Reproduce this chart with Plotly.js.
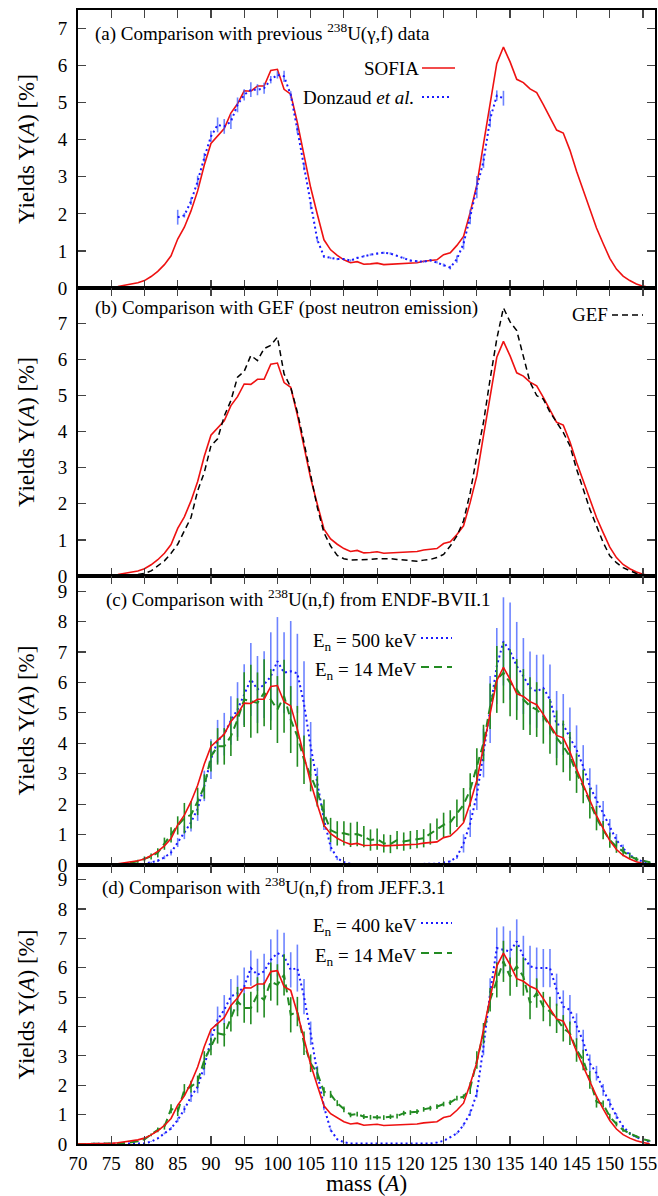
<!DOCTYPE html>
<html><head><meta charset="utf-8">
<script src="https://cdn.plot.ly/plotly-3.0.1.min.js"></script>
<style>body{margin:0;background:#fff}#chart{width:658px;height:1196px}</style>
</head><body><div id="chart"></div>
<script>
// ---------- data ----------
const massAll = [70,71,72,73,74,75,76,77,78,79,80,81,82,83,84,85,86,87,88,89,90,91,92,93,94,95,96,97,98,99,100,101,102,103,104,105,106,107,108,109,110,111,112,113,114,115,116,117,118,119,120,121,122,123,124,125,126,127,128,129,130,131,132,133,134,135,136,137,138,139,140,141,142,143,144,145,146,147,148,149,150,151,152,153,154,155,156];

const sofia = [0.00,0.00,0.01,0.01,0.02,0.02,0.04,0.07,0.10,0.14,0.20,0.31,0.45,0.63,0.87,1.32,1.64,2.08,2.62,3.32,3.90,4.10,4.30,4.72,4.97,5.32,5.31,5.45,5.45,5.87,5.90,5.36,5.23,4.46,3.62,2.71,1.99,1.30,1.03,0.88,0.76,0.68,0.71,0.64,0.65,0.67,0.63,0.64,0.63,0.65,0.67,0.68,0.72,0.75,0.76,0.90,0.95,1.15,1.39,2.04,2.78,3.89,5.00,6.06,6.50,6.10,5.63,5.54,5.37,5.27,4.95,4.62,4.26,4.18,3.72,3.15,2.64,2.13,1.62,1.20,0.80,0.51,0.32,0.20,0.11,0.05,0.01];

const gef = [0.00,0.00,0.00,0.00,0.00,0.00,0.01,0.01,0.02,0.04,0.07,0.14,0.28,0.42,0.63,0.88,1.25,1.62,2.36,2.87,3.61,3.80,4.43,4.86,5.51,5.67,6.11,5.97,6.30,6.39,6.62,5.60,5.23,4.54,3.70,2.78,1.90,1.20,0.83,0.57,0.48,0.44,0.44,0.44,0.46,0.48,0.49,0.48,0.46,0.44,0.42,0.41,0.44,0.46,0.51,0.60,0.83,1.11,1.53,2.31,3.33,4.26,5.46,6.57,7.43,7.04,6.80,6.11,5.37,5.00,4.90,4.54,4.26,3.98,3.61,2.96,2.41,1.85,1.39,0.93,0.56,0.37,0.23,0.14,0.07,0.04,0.01];

const massDonzaud = [85,86,87,88,89,90,91,92,93,94,95,96,97,98,99,100,101,102,103,104,105,106,107,108,109,110,111,112,113,114,115,116,117,118,119,120,121,122,123,124,125,126,127,128,129,130,131,132,133,134];
const donzaud = [1.91,1.96,2.34,2.88,3.52,4.09,4.40,4.36,4.49,4.94,5.21,5.35,5.35,5.39,5.62,5.75,5.71,5.21,4.27,3.28,2.20,1.30,0.85,0.81,0.78,0.78,0.74,0.81,0.86,0.90,0.93,0.95,0.93,0.87,0.81,0.74,0.72,0.71,0.75,0.69,0.62,0.55,0.78,1.20,1.92,2.72,3.42,4.56,5.19,5.12];
const donzaudErr = [0.20,0.06,0.10,0.15,0.12,0.15,0.20,0.20,0.20,0.20,0.15,0.20,0.15,0.15,0.10,0.10,0.15,0.10,0.10,0.10,0.08,0.05,0.04,0.03,0.03,0.03,0.03,0.03,0.03,0.03,0.03,0.03,0.03,0.03,0.03,0.03,0.03,0.03,0.03,0.03,0.04,0.05,0.10,0.16,0.20,0.30,0.18,0.22,0.14,0.20];

const endf500 = [0.00,0.00,0.00,0.00,0.00,0.00,0.00,0.01,0.01,0.02,0.04,0.08,0.14,0.25,0.41,0.74,1.07,1.40,1.85,2.60,3.48,4.07,4.30,4.75,5.11,5.60,6.10,5.77,5.93,6.20,6.70,6.32,6.37,6.30,5.30,3.90,2.65,1.50,0.60,0.22,0.09,0.04,0.02,0.02,0.02,0.02,0.02,0.02,0.02,0.02,0.02,0.02,0.02,0.02,0.04,0.08,0.12,0.27,0.71,1.37,2.31,3.68,5.11,6.54,7.35,7.03,6.54,6.21,5.82,5.71,5.82,5.44,4.62,4.62,4.18,3.79,3.24,2.58,2.14,1.70,1.21,0.82,0.55,0.33,0.19,0.11,0.07];
const endf500Err = [0,0,0,0,0,0,0,0,0,0.01,0.02,0.03,0.04,0.06,0.10,0.15,0.22,0.30,0.40,0.50,0.65,0.70,0.70,0.80,0.90,1.00,1.20,1.10,1.10,1.45,1.45,1.33,1.65,1.30,1.40,0.80,0.55,0.35,0.15,0.06,0.03,0.01,0,0,0,0,0,0,0,0,0,0,0,0,0.01,0.02,0.03,0.07,0.30,0.45,0.50,0.80,1.10,1.25,1.45,1.60,1.45,1.25,1.20,1.20,1.10,1.15,1.10,1.00,1.00,0.80,0.70,0.60,0.50,0.40,0.30,0.20,0.12,0.08,0.05,0.03,0.02];

const endf14 = [0.00,0.00,0.00,0.00,0.01,0.01,0.02,0.04,0.07,0.12,0.20,0.28,0.40,0.70,0.99,1.30,1.54,1.65,2.09,2.58,3.57,3.90,3.90,4.23,4.78,5.44,5.38,5.33,5.66,5.44,5.11,5.55,4.78,4.23,3.46,2.97,2.42,1.70,1.15,1.04,1.04,0.99,1.02,0.93,0.82,0.85,0.71,0.69,0.82,0.77,0.82,0.85,0.88,1.02,1.18,1.32,1.40,1.70,1.98,2.47,3.24,4.01,5.22,6.10,6.32,5.99,5.77,5.44,5.22,5.11,4.89,4.56,4.18,3.90,3.57,3.02,2.58,2.03,1.54,1.15,0.82,0.60,0.44,0.30,0.19,0.13,0.09];
const endf14Err = [0,0,0,0,0,0,0.01,0.02,0.03,0.05,0.08,0.10,0.15,0.20,0.25,0.30,0.50,0.45,0.45,0.40,0.50,0.60,0.60,0.65,0.70,0.90,1.20,1.00,1.10,1.00,1.10,1.20,1.10,1.00,0.80,0.55,0.50,0.45,0.40,0.40,0.40,0.40,0.40,0.35,0.35,0.35,0.30,0.30,0.30,0.30,0.30,0.30,0.30,0.35,0.35,0.40,0.40,0.45,0.55,0.55,0.60,0.60,0.75,1.10,1.00,1.10,1.00,1.00,0.95,0.90,0.90,0.90,0.90,0.85,0.80,0.65,0.55,0.50,0.40,0.30,0.25,0.20,0.15,0.10,0.07,0.05,0.03];

const jeff400 = [0.00,0.00,0.00,0.00,0.00,0.00,0.00,0.00,0.01,0.01,0.02,0.08,0.19,0.36,0.53,0.82,1.18,1.61,1.95,2.64,3.55,4.23,4.57,5.02,5.14,5.36,5.99,5.76,5.88,6.27,6.50,6.39,5.93,5.99,5.02,3.77,2.41,1.27,0.48,0.16,0.06,0.02,0.02,0.02,0.02,0.02,0.02,0.02,0.02,0.02,0.02,0.02,0.02,0.02,0.05,0.11,0.23,0.36,0.65,1.05,1.73,3.32,5.14,6.67,6.61,6.56,6.90,6.39,6.05,5.99,5.99,5.99,5.25,4.68,4.57,4.00,3.49,2.75,2.41,1.84,1.39,0.95,0.59,0.36,0.23,0.14,0.08];
const jeff400Err = [0,0,0,0,0,0,0,0,0,0,0.01,0.01,0.02,0.03,0.05,0.08,0.12,0.18,0.22,0.30,0.35,0.45,0.50,0.60,0.60,0.65,0.60,0.55,0.60,0.70,0.80,0.80,0.60,0.80,0.60,0.40,0.25,0.12,0.05,0.02,0.01,0,0,0,0,0,0,0,0,0,0,0,0,0,0.01,0.01,0.02,0.03,0.05,0.10,0.15,0.30,0.50,0.70,0.80,0.70,0.75,0.70,0.70,0.70,0.65,0.65,0.55,0.55,0.50,0.45,0.40,0.30,0.25,0.20,0.15,0.10,0.06,0.04,0.03,0.02,0.01];

const jeff14 = [0.00,0.00,0.00,0.00,0.01,0.01,0.02,0.03,0.05,0.09,0.16,0.31,0.48,0.59,1.20,1.10,1.84,1.95,2.13,2.86,3.32,3.77,3.72,4.28,4.85,4.63,4.63,5.08,4.91,5.53,5.42,5.76,4.40,4.51,3.43,2.75,2.41,1.78,1.69,1.39,1.18,0.99,1.02,0.93,0.91,0.91,0.90,0.93,0.95,1.05,1.07,1.10,1.18,1.22,1.27,1.36,1.41,1.56,1.61,1.90,2.86,3.77,4.91,5.59,6.22,5.70,6.05,5.70,4.80,5.14,4.68,4.51,4.28,3.94,3.77,3.20,2.86,2.18,1.44,1.36,0.93,0.68,0.48,0.36,0.25,0.16,0.11];
const jeff14Err = [0,0,0,0,0,0,0,0,0.01,0.02,0.03,0.05,0.08,0.10,0.15,0.15,0.20,0.20,0.20,0.30,0.30,0.35,0.40,0.45,0.50,0.50,0.55,0.60,0.60,0.65,0.70,0.70,0.60,0.50,0.40,0.30,0.20,0.15,0.12,0.10,0.10,0.08,0.08,0.08,0.08,0.08,0.08,0.08,0.08,0.08,0.08,0.08,0.08,0.08,0.08,0.08,0.08,0.08,0.08,0.20,0.30,0.35,0.40,0.60,0.70,0.65,0.70,0.65,0.55,0.50,0.50,0.50,0.50,0.45,0.40,0.40,0.35,0.30,0.20,0.12,0.10,0.08,0.06,0.05,0.04,0.03,0.02];

const panelTitles = [
  '(a) Comparison with previous <sup>238</sup>U(γ,f) data',
  '(b) Comparison with GEF (post neutron emission)',
  '(c) Comparison with <sup>238</sup>U(n,f) from ENDF-BVII.1',
  '(d) Comparison with <sup>238</sup>U(n,f) from JEFF.3.1'
];
const legendLabels = ['SOFIA', 'Donzaud <i>et al.</i>', 'GEF', 'E<sub>n</sub> = 500 keV', 'E<sub>n</sub> = 14 MeV', 'E<sub>n</sub> = 400 keV', 'E<sub>n</sub> = 14 MeV'];
const xTitle = 'mass (<i>A</i>)';
const yTitle = 'Yields Y(<i>A</i>) [%]';

// ---------- style ----------
const RED = '#ee1111', BLUE = '#1a1aff', BLUEBAR = 'rgba(60,90,255,0.75)', GREEN = '#228b22', BLACK = '#000';
const FONT = 'Liberation Serif, Times New Roman, serif';

function line(x, y, xa, ya, color, width, dash, err, errColor) {
  const t = {x: x, y: y, xaxis: xa, yaxis: ya, type: 'scatter', mode: 'lines',
    line: {color: color, width: width, dash: dash}, showlegend: false, hoverinfo: 'skip'};
  if (err) t.error_y = {type: 'data', array: err, visible: true, color: errColor, thickness: 1.6, width: 0};
  return t;
}
const DOT = '2px,3px', DASHG = '8px,5px', DASHK = '6px,4px';

const traces = [
  line(massAll, sofia, 'x', 'y', RED, 1.6, 'solid'),
  line(massDonzaud, donzaud, 'x', 'y', BLUE, 2, DOT, donzaudErr, BLUEBAR),
  line(massAll, sofia, 'x2', 'y2', RED, 1.6, 'solid'),
  line(massAll, gef, 'x2', 'y2', BLACK, 1.5, DASHK),
  line(massAll, endf500, 'x3', 'y3', BLUE, 2, DOT, endf500Err, BLUEBAR),
  line(massAll, endf14, 'x3', 'y3', GREEN, 2, DASHG, endf14Err, GREEN),
  line(massAll, sofia, 'x3', 'y3', RED, 1.6, 'solid'),
  line(massAll, jeff400, 'x4', 'y4', BLUE, 2, DOT, jeff400Err, BLUEBAR),
  line(massAll, jeff14, 'x4', 'y4', GREEN, 2, DASHG, jeff14Err, GREEN),
  line(massAll, sofia, 'x4', 'y4', RED, 1.6, 'solid')
];

// ---------- layout ----------
const T = 10, B = 52, L = 78, R = 3, H = 1196, W = 658;
const ph = H - T - B, pw = W - L - R;
const py = v => (H - B - v) / ph;   // page y -> paper
const px = v => (v - L) / pw;       // page x -> paper
const doms = [[py(288), 1], [py(576), py(288)], [py(865), py(576)], [0, py(865)]];
const yr = [[0, 7.5], [0, 7.98], [0, 9.5], [0, 9.5]];

function xaxis(i) {
  return {range: [70, 156.8], dtick: 5, tick0: 70, ticks: 'inside', ticklen: 8, tickwidth: 1.2,
    mirror: 'ticks', showline: true, linewidth: 2, linecolor: '#000', showgrid: false, zeroline: false,
    anchor: 'y' + (i ? i + 1 : ''), showticklabels: i === 3, ticklabelstandoff: 1,
    tickfont: {family: FONT, size: 19, color: '#000'},
    title: i === 3 ? {text: xTitle, font: {family: FONT, size: 23, color: '#000'}, standoff: 3} : undefined};
}
function yaxis(i) {
  return {domain: doms[i], range: yr[i], dtick: 1, tick0: 0, ticks: 'inside', ticklen: 8, tickwidth: 1.2,
    mirror: 'ticks', showline: true, linewidth: 2, linecolor: '#000', showgrid: false, zeroline: false,
    anchor: 'x' + (i ? i + 1 : ''), ticklabelstandoff: 5,
    tickfont: {family: FONT, size: 19, color: '#000'},
    title: {text: yTitle, font: {family: FONT, size: 23, color: '#000'}, standoff: 17}};
}

const ann = [];
const titlePos = [[93, 32], [93, 308], [104, 598], [100, 886]];
panelTitles.forEach((t, i) => ann.push({text: t, xref: 'paper', yref: 'paper', x: px(titlePos[i][0]), y: py(titlePos[i][1]),
  xanchor: 'left', yanchor: 'middle', showarrow: false, font: {family: FONT, size: 19, color: '#000'}}));

const legPos = [[421, 68], [416, 97], [610, 315], [419, 638], [419, 667], [419, 923], [419, 953]];
const legLine = [[422, 455, RED, 'solid', 1.6], [422, 452, BLUE, DOT, 2], [612, 643, BLACK, DASHK, 1.5],
  [421, 452, BLUE, DOT, 2], [421, 452, GREEN, DASHG, 2], [421, 452, BLUE, DOT, 2], [421, 452, GREEN, DASHG, 2]];
const shapes = [];
legendLabels.forEach((t, i) => {
  const sub = t.indexOf('<sub>') >= 0;
  ann.push({text: t, xref: 'paper', yref: 'paper', x: px(legPos[i][0]), y: py(legPos[i][1] + (sub ? 4 : 0)),
    xanchor: 'right', yanchor: 'middle', showarrow: false, font: {family: FONT, size: 19, color: '#000'}});
  const l = legLine[i];
  shapes.push({type: 'line', xref: 'paper', yref: 'paper', x0: px(l[0]), x1: px(l[1]), y0: py(legPos[i][1]), y1: py(legPos[i][1]),
    line: {color: l[2], dash: l[3], width: l[4]}});
});

const layout = {width: W, height: H, margin: {l: L, r: R, t: T, b: B}, paper_bgcolor: '#fff', plot_bgcolor: '#fff',
  showlegend: false, annotations: ann, shapes: shapes, font: {family: FONT, color: '#000'}};
for (let i = 0; i < 4; i++) {
  layout['xaxis' + (i ? i + 1 : '')] = xaxis(i);
  layout['yaxis' + (i ? i + 1 : '')] = yaxis(i);
}
Plotly.newPlot('chart', traces, layout, {staticPlot: true});
</script></body></html>
